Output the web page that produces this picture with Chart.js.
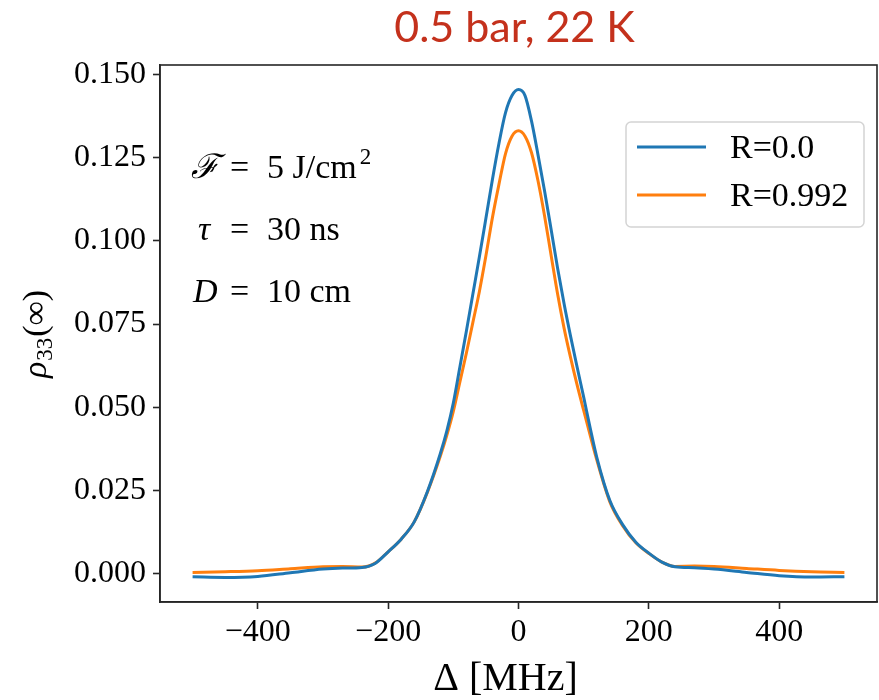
<!DOCTYPE html>
<html>
<head>
<meta charset="utf-8">
<script src="https://cdn.jsdelivr.net/npm/chart.js@4.4.1/dist/chart.umd.min.js"></script>
<style>
html, body { margin: 0; padding: 0; background: #fff; }
#wrap { width: 879px; height: 700px; position: relative; }
</style>
</head>
<body>
<div id="wrap"><canvas id="rho"></canvas></div>
<script>
// detuning in MHz and rho_33(inf) for both reflectivities
const detuning = [-500, -450, -400, -350, -300, -270, -240, -220, -200, -180, -160, -140, -120, -110, -100, -90, -80, -70, -60, -50, -40, -30, -20, -10, 0,
                  10, 20, 30, 40, 50, 60, 70, 80, 90, 100, 110, 120, 140, 160, 180, 200, 220, 240, 270, 300, 350, 400, 450, 500]
const rhoR0 = [-0.0010, -0.0012, -0.0009, 0.0002, 0.0013, 0.0016, 0.0018, 0.0030, 0.0065, 0.0103, 0.0155, 0.0245, 0.0360, 0.0428, 0.0512, 0.0620, 0.0728, 0.0840, 0.0952, 0.1068, 0.1185, 0.1293, 0.1385, 0.1437, 0.1455,
               0.1437, 0.1360, 0.1258, 0.1150, 0.1035, 0.0918, 0.0810, 0.0712, 0.0620, 0.0530, 0.0437, 0.0350, 0.0220, 0.0146, 0.0094, 0.0061, 0.0034, 0.0020, 0.0017, 0.0013, 0.0003, -0.0007, -0.0011, -0.0010]
const rhoR992 = [0.0003, 0.0005, 0.0008, 0.0014, 0.0020, 0.0021, 0.0019, 0.0031, 0.0065, 0.0103, 0.0155, 0.0243, 0.0352, 0.0415, 0.0487, 0.0575, 0.0662, 0.0755, 0.0848, 0.0955, 0.1070, 0.1170, 0.1262, 0.1315, 0.1331,
                 0.1315, 0.1265, 0.1180, 0.1075, 0.0957, 0.0840, 0.0737, 0.0648, 0.0566, 0.0490, 0.0415, 0.0342, 0.0216, 0.0143, 0.0092, 0.0060, 0.0034, 0.0021, 0.0022, 0.0021, 0.0015, 0.0009, 0.0005, 0.0003]
const seriesLabels = ['R=0.0', 'R=0.992']
const seriesColors = ['#1f77b4', '#ff7f0e']
const xTicks = [-400, -200, 0, 200, 400]
const yTicks = [0, 0.025, 0.05, 0.075, 0.1, 0.125, 0.15]
const titleText = '0.5 bar, 22 K'
const xLabel = 'Δ [MHz]'
// [symbol, value, superscript]
const params = [['ℱ', '5 J/cm', '2'], ['τ', '30 ns', ''], ['D', '10 cm', '']]

const serif = '"Liberation Serif", "DejaVu Serif", serif'
const spine = '#262626'
Chart.defaults.color = '#000'

const toPoints = ys => detuning.map((x, i) => ({ x: x, y: ys[i] }))

const extras = {
  id: 'extras',
  afterDraw(chart) {
    const { ctx, chartArea: a } = chart
    ctx.save()
    // full box like matplotlib spines
    ctx.strokeStyle = spine
    ctx.lineWidth = 1.6
    ctx.strokeRect(a.left, a.top, a.right - a.left, a.bottom - a.top)

    // title
    ctx.fillStyle = '#c4311c'
    ctx.font = '43px Lato, "Open Sans", sans-serif'
    ctx.textAlign = 'center'
    ctx.textBaseline = 'alphabetic'
    ctx.fillText(titleText, (a.left + a.right) / 2 - 4, 42)

    // x label
    ctx.fillStyle = '#000'
    ctx.font = '40px ' + serif
    ctx.fillText(xLabel, (a.left + a.right) / 2 - 13, 690)

    // parameter block
    ctx.textAlign = 'left'
    const symX = [31, 38, 33]
    params.forEach((p, i) => {
      const y = a.top + 113 + i * 62
      ctx.font = 'italic 34px ' + serif
      ctx.fillText(p[0], a.left + symX[i], y)
      ctx.font = '34px ' + serif
      ctx.fillText('=', a.left + 70, y)
      ctx.fillText(p[1], a.left + 107, y)
      if (p[2]) {
        const w = ctx.measureText(p[1]).width
        ctx.font = '23px ' + serif
        ctx.fillText(p[2], a.left + 110 + w, y - 14)
      }
    })

    // y label rho_33(inf)
    ctx.translate(46, (a.top + a.bottom) / 2)
    ctx.rotate(-Math.PI / 2)
    const parts = [['ρ', 'italic 34px ' + serif, 0], ['33', '23px ' + serif, 6], ['(∞)', '34px ' + serif, 0]]
    let total = 0
    parts.forEach(p => { ctx.font = p[1]; total += ctx.measureText(p[0]).width + 1 })
    let px = -total / 2
    parts.forEach(p => {
      ctx.font = p[1]
      ctx.fillText(p[0], px, p[2])
      px += ctx.measureText(p[0]).width + 1
    })
    ctx.setTransform(1, 0, 0, 1, 0, 0)

    // legend
    const bx = a.right - 251, by = a.top + 57, bw = 238, bh = 105
    ctx.fillStyle = 'rgba(255,255,255,0.8)'
    ctx.strokeStyle = '#d4d4d4'
    ctx.lineWidth = 1.5
    ctx.beginPath()
    ctx.roundRect(bx, by, bw, bh, 5)
    ctx.fill()
    ctx.stroke()
    ctx.font = '34px ' + serif
    ctx.textBaseline = 'middle'
    chart.data.datasets.forEach((ds, i) => {
      const ly = by + 25 + i * 48
      ctx.strokeStyle = ds.borderColor
      ctx.lineWidth = 3
      ctx.beginPath()
      ctx.moveTo(bx + 11, ly)
      ctx.lineTo(bx + 80, ly)
      ctx.stroke()
      ctx.fillStyle = '#000'
      ctx.fillText(ds.label, bx + 104, ly + 2)
    })
    ctx.restore()
  }
}

new Chart(document.getElementById('rho'), {
  type: 'line',
  data: {
    datasets: [
      { label: seriesLabels[0], data: toPoints(rhoR0), borderColor: seriesColors[0], borderWidth: 3, pointRadius: 0, cubicInterpolationMode: 'monotone', fill: false },
      { label: seriesLabels[1], data: toPoints(rhoR992), borderColor: seriesColors[1], borderWidth: 3, pointRadius: 0, cubicInterpolationMode: 'monotone', fill: false }
    ]
  },
  options: {
    responsive: true,
    maintainAspectRatio: false,
    animation: false,
    layout: { padding: { top: 65, right: 2, left: 0, bottom: 0 } },
    plugins: { legend: { display: false }, title: { display: false }, tooltip: { enabled: false } },
    scales: {
      x: {
        type: 'linear',
        min: -550,
        max: 550,
        afterBuildTicks: s => { s.ticks = xTicks.map(v => ({ value: v })) },
        afterFit: s => { s.height = 98 },
        grid: { drawOnChartArea: false, tickLength: 7, tickWidth: 1.6, tickColor: spine },
        border: { color: spine, width: 1.6 },
        ticks: { font: { family: serif, size: 32 }, padding: 4, maxRotation: 0,
                 callback: v => v < 0 ? '\u2212' + Math.abs(v) : String(v) }
      },
      y: {
        type: 'linear',
        min: -0.0086,
        max: 0.1529,
        afterBuildTicks: s => { s.ticks = yTicks.map(v => ({ value: v })) },
        afterFit: s => { s.width = 160 },
        grid: { drawOnChartArea: false, tickLength: 7, tickWidth: 1.6, tickColor: spine },
        border: { color: spine, width: 1.6 },
        ticks: { font: { family: serif, size: 32 }, padding: 7, callback: v => v.toFixed(3) }
      }
    }
  },
  plugins: [extras]
})
</script>
</body>
</html>
